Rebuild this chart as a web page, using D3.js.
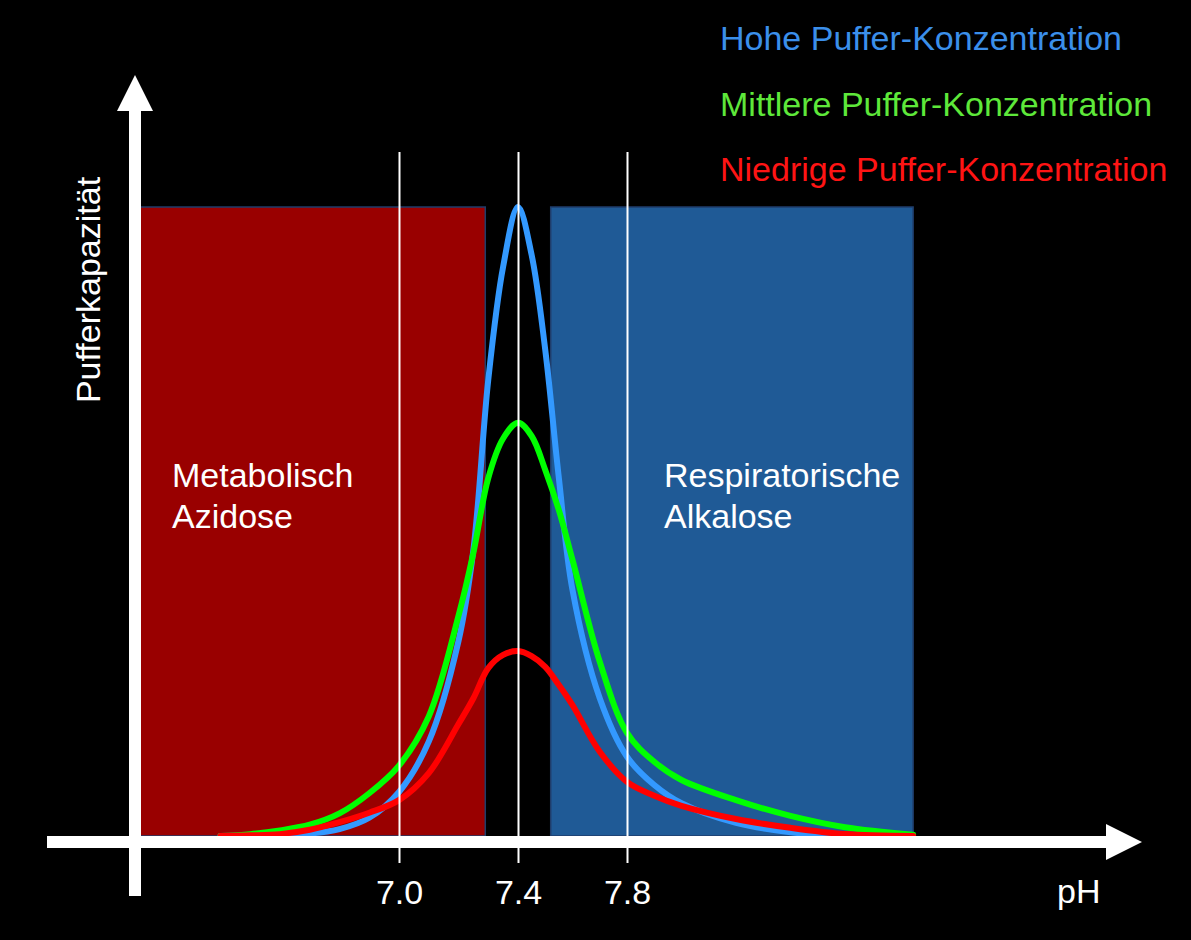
<!DOCTYPE html>
<html>
<head>
<meta charset="utf-8">
<script src="https://cdn.jsdelivr.net/npm/d3@7"></script>
<style>
  body { margin: 0; background: #000; }
  svg { display: block; font-family: "Liberation Sans", Arial, sans-serif; }
</style>
</head>
<body>
<svg id="chart"></svg>
<script>
// Data (buffer capacity, relative units; 100 = top of the boxes)
const phTicks = [7.0, 7.4, 7.8];
const phGrid = [6.4, 6.5, 6.6, 6.7, 6.8, 6.9, 7.0, 7.1, 7.2, 7.25, 7.3, 7.35, 7.4,
                7.45, 7.5, 7.55, 7.6, 7.7, 7.8, 7.9, 8.0, 8.2, 8.4, 8.6, 8.85];
const hohe     = [0, 0.1, 0.2, 0.4, 1.1, 2.9, 7.0, 15.0, 31.0, 45.5, 72.5, 90.5, 100,
                  92.4, 77.3, 56.9, 39.1, 21.9, 12.6, 8.1, 5.2, 2.1, 0.6, 0.1, 0];
const mittlere = [0, 0.3, 0.9, 1.8, 3.6, 6.8, 11.2, 19.0, 35.0, 45.0, 56.9, 63.2, 65.7,
                  63.6, 58.2, 51.8, 43.9, 27.7, 16.4, 11.8, 8.9, 5.7, 3.2, 1.4, 0.2];
const niedrige = [0, 0.1, 0.3, 1.0, 2.2, 3.7, 5.7, 10.0, 17.8, 21.9, 26.7, 28.8, 29.4,
                  28.6, 26.9, 24.0, 20.8, 13.4, 8.6, 6.4, 4.8, 2.7, 1.3, 0.3, 0];

const seriesNames = ["Hohe Puffer-Konzentration", "Mittlere Puffer-Konzentration", "Niedrige Puffer-Konzentration"];
const seriesValues = [hohe, mittlere, niedrige];
const lineColors = ["#3399ff", "#00ff00", "#ff0000"];
const legendColors = ["#3b8fea", "#5ee83a", "#ff1414"];

const regionNames = [["Metabolisch", "Azidose"], ["Respiratorische", "Alkalose"]];
const regionFrom = [6.13, 7.52];
const regionTo = [7.29, 8.85];
const regionTop = 100;
const regionColors = ["#990000", "#1f5a96"];

const dimensions = {
    width: 1191,
    height: 940,
    fontSize: 34
};

const svg = d3.select("#chart")
    .attr("width", dimensions.width)
    .attr("height", dimensions.height);

svg.append("rect")
    .attr("width", dimensions.width)
    .attr("height", dimensions.height)
    .attr("fill", "#000");

// Scales (the pH axis of the original is not evenly spaced)
const xScale = d3.scaleLinear()
    .domain(phTicks)
    .range([399, 518, 627]);

const yScale = d3.scaleLinear()
    .domain([0, 100])
    .range([836, 207]);

// Region boxes
regionNames.forEach((names, i) => {
    svg.append("rect")
        .attr("x", xScale(regionFrom[i]))
        .attr("y", yScale(regionTop))
        .attr("width", xScale(regionTo[i]) - xScale(regionFrom[i]))
        .attr("height", yScale(0) - yScale(regionTop))
        .attr("fill", regionColors[i])
        .attr("stroke", "#1f3d6b")
        .attr("stroke-width", 1.5);
});

const labelX = [172, 664];
regionNames.forEach((names, i) => {
    const t = svg.append("text")
        .attr("fill", "#fff")
        .style("font-size", dimensions.fontSize + "px");
    names.forEach((n, j) => {
        t.append("tspan")
            .attr("x", labelX[i])
            .attr("y", 487 + j * 41)
            .text(n);
    });
});

// Curves
const line = d3.line()
    .x((d, i) => xScale(phGrid[i]))
    .y(d => yScale(d))
    .curve(d3.curveCatmullRom.alpha(0.5));

seriesValues.forEach((values, i) => {
    svg.append("path")
        .datum(values)
        .attr("d", line)
        .attr("fill", "none")
        .attr("stroke", lineColors[i])
        .attr("stroke-width", 6)
        .attr("stroke-linecap", "round")
        .attr("stroke-linejoin", "round");
});

// pH reference lines + tick labels
const xAxis = svg.append("g")
    .attr("transform", "translate(0,863)")
    .call(d3.axisBottom(xScale)
        .tickValues(phTicks)
        .tickFormat(d3.format(".1f"))
        .tickSizeInner(-711)
        .tickSizeOuter(0)
        .tickPadding(17));

xAxis.select(".domain").remove();
xAxis.selectAll(".tick line")
    .attr("stroke", "#fff")
    .attr("stroke-width", 2);
xAxis.selectAll(".tick text")
    .attr("fill", "#fff")
    .style("font-size", dimensions.fontSize + "px")
    .style("font-family", "'Liberation Sans', Arial, sans-serif");

// Axis arrows
const axisColor = "#fff";
svg.append("rect")
    .attr("x", 47).attr("y", 836)
    .attr("width", 1106 - 47).attr("height", 12)
    .attr("fill", axisColor);
svg.append("path")
    .attr("d", "M1106,824 L1142,842 L1106,860 Z")
    .attr("fill", axisColor);

svg.append("rect")
    .attr("x", 129).attr("y", 110)
    .attr("width", 12).attr("height", 896 - 110)
    .attr("fill", axisColor);
svg.append("path")
    .attr("d", "M117,111 L135,75 L153,111 Z")
    .attr("fill", axisColor);

// Axis titles
svg.append("text")
    .attr("transform", "translate(100,290) rotate(-90)")
    .attr("text-anchor", "middle")
    .attr("fill", "#fff")
    .style("font-size", dimensions.fontSize + "px")
    .text("Pufferkapazität");

svg.append("text")
    .attr("x", 1057)
    .attr("y", 903)
    .attr("fill", "#fff")
    .style("font-size", dimensions.fontSize + "px")
    .text("pH");

// Legend
seriesNames.forEach((name, i) => {
    svg.append("text")
        .attr("x", 720)
        .attr("y", 50 + i * 65.5)
        .attr("fill", legendColors[i])
        .style("font-size", dimensions.fontSize + "px")
        .text(name);
});
</script>
</body>
</html>
